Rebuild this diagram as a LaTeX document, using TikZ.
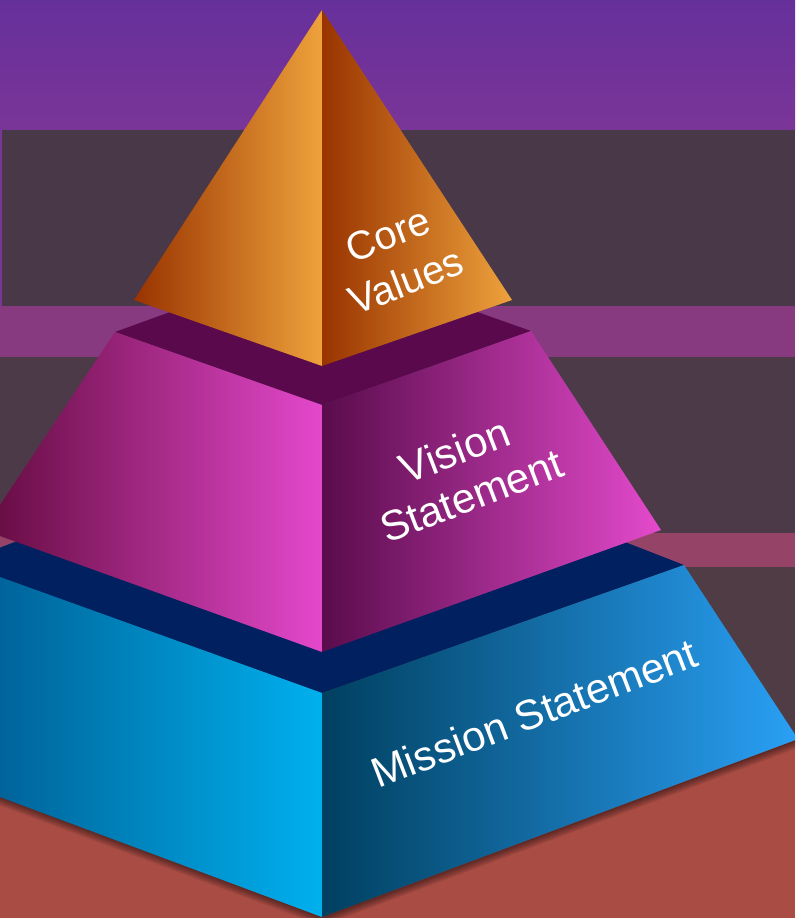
\documentclass[tikz,border=0pt]{standalone}
\usepackage{fontspec}
\setmainfont{Liberation Sans}
\definecolor{bgtop}{HTML}{66309B}
\definecolor{bgmid}{HTML}{7A3598}
\definecolor{bgdark}{HTML}{483848}
\definecolor{bgdarkb}{HTML}{4C3A48}
\definecolor{bgdarkc}{HTML}{503C44}
\definecolor{bgband}{HTML}{873A80}
\definecolor{bgpink}{HTML}{954468}
\definecolor{bgred}{HTML}{A84C44}
\definecolor{navytop}{HTML}{002060}
\definecolor{plumtop}{HTML}{5A0A4C}
% mission faces
\definecolor{mlA}{HTML}{00649A}
\definecolor{mlB}{HTML}{0094CC}
\definecolor{mlC}{HTML}{00B0EE}
\definecolor{mrA}{HTML}{004060}
\definecolor{mrB}{HTML}{2288CC}
\definecolor{mrC}{HTML}{2AA0F5}
% vision faces
\definecolor{vlA}{HTML}{6A0E46}
\definecolor{vlB}{HTML}{BC38A8}
\definecolor{vlC}{HTML}{E448CC}
\definecolor{vrA}{HTML}{5A0C4C}
\definecolor{vrB}{HTML}{B036A2}
\definecolor{vrC}{HTML}{E44ACC}
% core faces
\definecolor{clA}{HTML}{993300}
\definecolor{clB}{HTML}{D2802E}
\definecolor{clC}{HTML}{EEA23C}
\definecolor{crB}{HTML}{BF6724}

\begin{document}
\begin{tikzpicture}[x=1pt,y=-1pt,
    tierlabel/.style={text=white,align=center,inner sep=0pt,rotate=21}]
  \useasboundingbox (0,0) rectangle (795,918);
  \clip (0,0) rectangle (795,918);

  % background bands
  \shade[top color=bgtop,bottom color=bgmid] (0,0) rectangle (795,130);
  \fill[bgmid] (0,130) rectangle (2,306);
  \foreach \ya/\yb/\c/\xa in {130/306/bgdark/2,306/357/bgband/0,357/533/bgdarkb/0,
      533/567/bgpink/0,567/740/bgdarkc/0,740/918/bgred/0}
    \fill[\c] (\xa,\ya) rectangle (795,\yb);

  % corners of the three tiers
  \coordinate (mB) at (322,424);  \coordinate (mL) at (-40,563);
  \coordinate (mR) at (684,565);  \coordinate (mF) at (322,693);
  \coordinate (mBL) at (-154,739); \coordinate (mBR) at (798,739);
  \coordinate (mBF) at (322,917);
  \coordinate (vB) at (322,257);  \coordinate (vL) at (115,332);
  \coordinate (vR) at (531,331);  \coordinate (vF) at (322,405);
  \coordinate (vBR) at (661,530); \coordinate (vBF) at (322,652);
  \coordinate (cA) at (322,10);   \coordinate (cL) at (134,300);
  \coordinate (cR) at (512,300);  \coordinate (cF) at (322,366);

  % soft shadow under the base
  \foreach \d in {1,...,9}
    \fill[black,opacity=.06] (-154,739+\d) -- (322,917+\d) -- (798,739+\d)
      -- (mBR) -- (mBF) -- (mBL) -- cycle;

  % mission tier
  \fill[navytop] (mL) -- (mB) -- (mR) -- (mF) -- cycle;
  \shade[left color=mlA,middle color=mlB,right color=mlC]
    (0,577) -- (mF) -- (mBF) -- (0,797) -- cycle;
  \shade[left color=mrA,middle color=mrB,right color=mrC]
    (mF) -- (mR) -- (mBR) -- (mBF) -- cycle;

  % vision tier
  \fill[plumtop] (vL) -- (vB) -- (vR) -- (vF) -- cycle;
  \shade[left color=vlA,middle color=vlB,right color=vlC]
    (vL) -- (vF) -- (vBF) -- (0,536) -- (0,505) -- cycle;
  \shade[left color=vrA,middle color=vrB,right color=vrC]
    (vF) -- (vR) -- (vBR) -- (vBF) -- cycle;

  % core tier
  \shade[left color=clA,middle color=clB,right color=clC]
    (cA) -- (cF) -- (cL) -- cycle;
  \shade[left color=clA,middle color=crB,right color=clC]
    (cA) -- (cR) -- (cF) -- cycle;

  % labels
  \node[tierlabel,font=\fontsize{40}{50}\selectfont] (core) at (397,258) {Core\\Values};
  \node[tierlabel,font=\fontsize{42}{48}\selectfont] (vision) at (463,473) {Vision\\Statement};
  \node[tierlabel,font=\fontsize{42}{48}\selectfont] (mission) at (534,713) {Mission Statement};
\end{tikzpicture}
\end{document}
